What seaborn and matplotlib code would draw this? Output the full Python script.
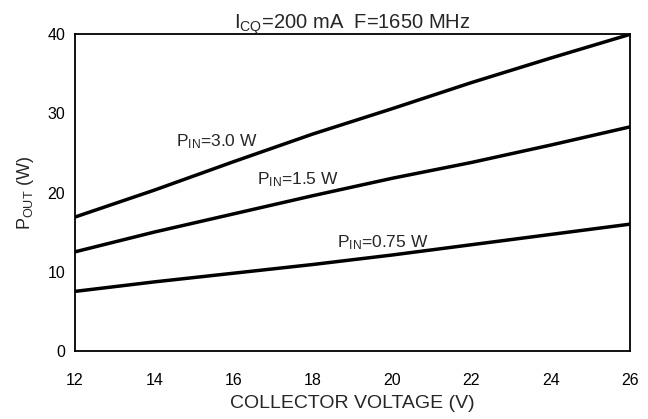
import matplotlib
matplotlib.use("Agg")
import matplotlib.pyplot as plt
import seaborn as sns
import pandas as pd

voltage = [12, 14, 16, 18, 20, 22, 24, 26]
pout_3_0 = [16.9, 20.3, 23.9, 27.4, 30.6, 33.9, 37.0, 40.0]
pout_1_5 = [12.5, 15.0, 17.3, 19.6, 21.8, 23.8, 26.0, 28.3]
pout_0_75 = [7.5, 8.7, 9.8, 10.9, 12.1, 13.4, 14.7, 16.0]
series_names = ["3.0", "1.5", "0.75"]
x_ticks = [12, 14, 16, 18, 20, 22, 24, 26]
y_ticks = [0, 10, 20, 30, 40]

rows = []
for name, vals in zip(series_names, [pout_3_0, pout_1_5, pout_0_75]):
    for v, p in zip(voltage, vals):
        rows.append({"V": v, "P": p, "series": name})
df = pd.DataFrame(rows)

sns.set_style("white")
plt.rcParams["font.family"] = ["Liberation Sans", "DejaVu Sans"]
plt.rcParams["mathtext.fontset"] = "custom"
plt.rcParams["mathtext.rm"] = "Liberation Sans"
plt.rcParams["mathtext.it"] = "Liberation Sans"

fig = plt.figure(figsize=(6.48, 4.19), dpi=100)
ax = fig.add_axes([0.1157, 0.163, 0.8565, 0.755])

sns.lineplot(data=df, x="V", y="P", units="series", estimator=None,
             color="black", linewidth=2.5, ax=ax, legend=False)

ax.set_xlim(12, 26)
ax.set_ylim(0, 40)
ax.set_xticks(x_ticks)
ax.set_yticks(y_ticks)
ax.tick_params(axis="both", direction="in", length=3, width=1, color="black",
               labelsize=11.5, labelcolor="black")
ax.tick_params(axis="x", pad=16)
ax.tick_params(axis="y", pad=7)
for s in ax.spines.values():
    s.set_visible(True)
    s.set_color("black")
    s.set_linewidth(1.3)

ax.set_xlabel("COLLECTOR VOLTAGE (V)", fontsize=14, labelpad=5)
ax.set_ylabel(r"$\mathregular{P_{OUT}}$ (W)", fontsize=13, labelpad=8)
ax.set_title(r"$\mathregular{I_{CQ}}$=200 mA  F=1650 MHz", fontsize=14.5, pad=4)

ax.text(14.55, 26.4, r"$\mathregular{P_{IN}}$=3.0 W", fontsize=12.5, va="center", ha="left")
ax.text(16.6, 21.6, r"$\mathregular{P_{IN}}$=1.5 W", fontsize=12.5, va="center", ha="left")
ax.text(18.6, 13.6, r"$\mathregular{P_{IN}}$=0.75 W", fontsize=12.5, va="center", ha="left")

fig.savefig("out.png", dpi=100, facecolor="white")
